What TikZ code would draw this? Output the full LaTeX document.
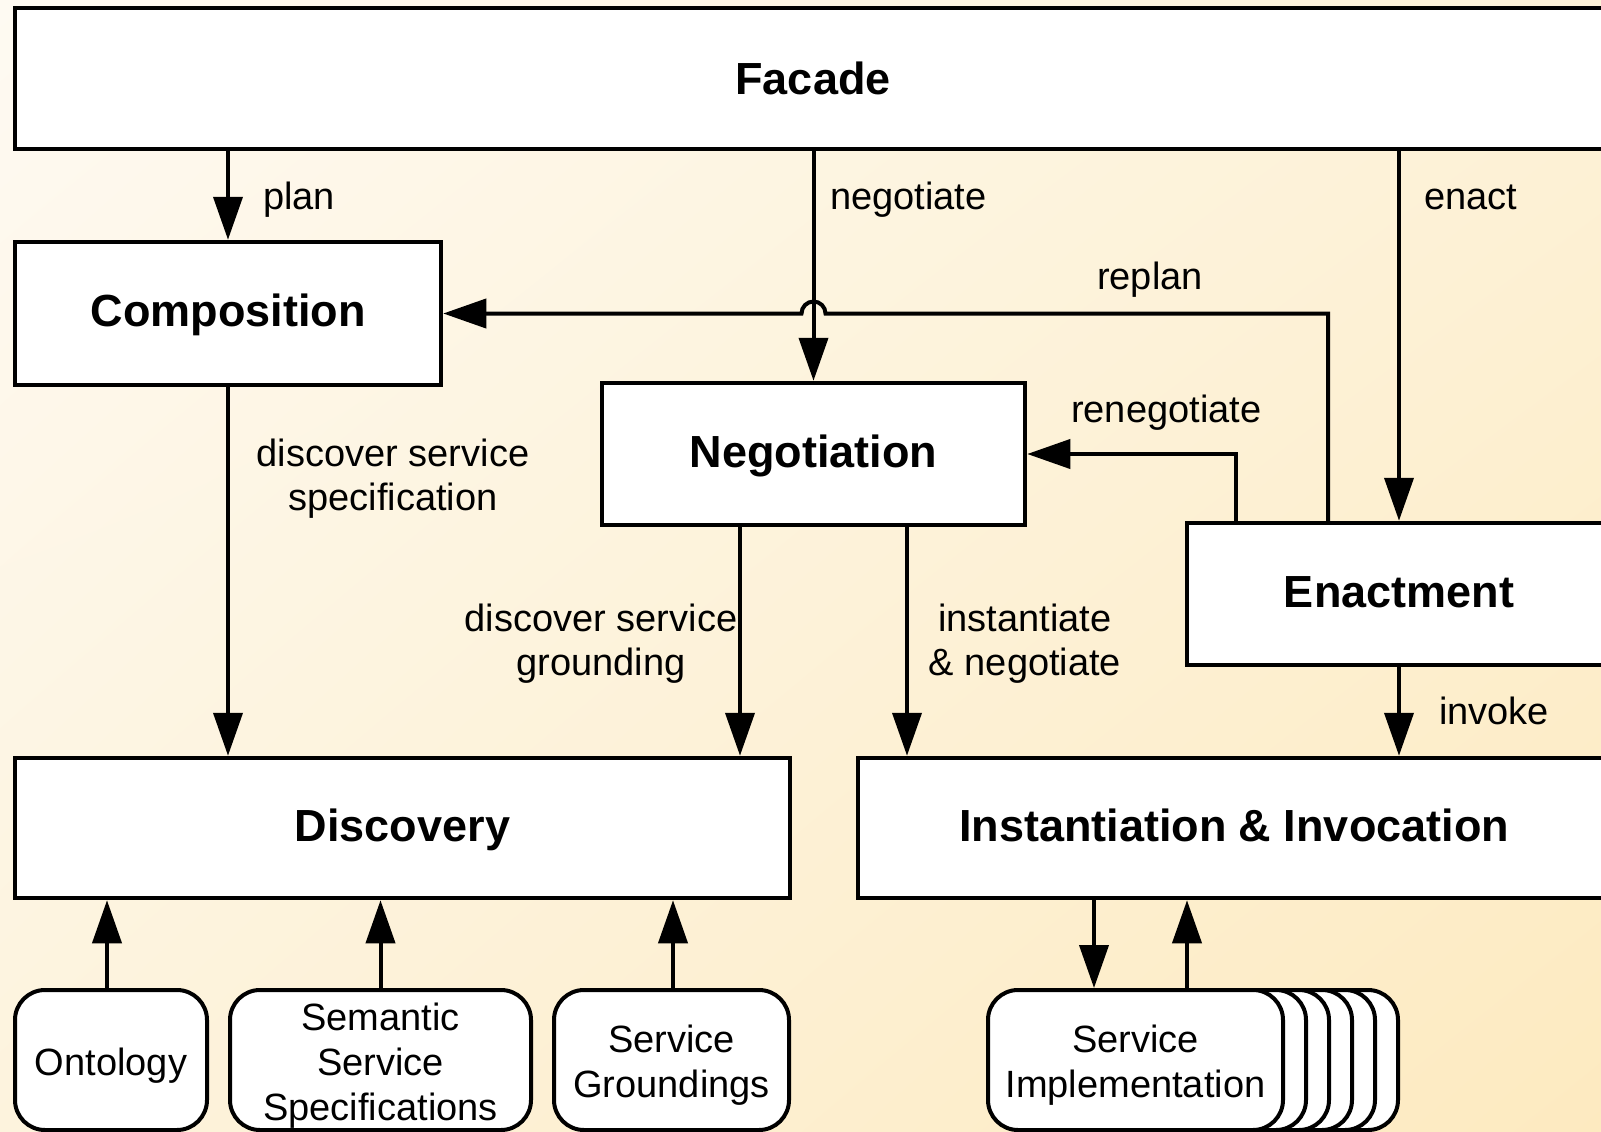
\documentclass[tikz,border=0pt]{standalone}
\usepackage{fontspec}
\setmainfont{Liberation Sans}
\usetikzlibrary{arrows.meta,shadings}
\definecolor{bgUL}{HTML}{FEFAF2}
\definecolor{bgUR}{HTML}{FDF2D8}
\definecolor{bgLL}{HTML}{FDF3DD}
\definecolor{bgLR}{HTML}{FDEAC0}
% raises the first line of a repository label so the block sits a little lower
\newcommand{\leafstrut}{\rule{0pt}{38pt}}
\begin{document}
\begin{tikzpicture}[x=1pt,y=-1pt,
  box/.style={draw=black, fill=white, line width=4.5pt, inner sep=0pt,
    text height=32.4pt, text depth=6.4pt,
    font=\fontsize{45}{54}\selectfont\bfseries},
  leaf/.style={draw=black, fill=white, line width=4pt, rounded corners=30pt,
    inner sep=0pt, minimum height=140pt, align=center,
    font=\fontsize{38}{45}\selectfont},
  lbl/.style={inner sep=0pt, align=center, font=\fontsize{38}{44}\selectfont},
  arr/.style={line width=4pt, -{Triangle[length=43pt,width=29pt]}}]

\useasboundingbox (0,0) rectangle (1601,1132);
\clip (0,0) rectangle (1601,1132);
\shade[upper left=bgUL, upper right=bgUR, lower left=bgLL, lower right=bgLR]
  (0,0) rectangle (1601,1132);

% main components
\node[box, text depth=0pt, minimum width=1596pt, minimum height=141pt] (facade) at (813,78.5) {Facade};
\node[box, minimum width=426pt, minimum height=143pt] (comp) at (228,313.5) {Composition};
\node[box, minimum width=423pt, minimum height=142pt] (nego) at (813.5,454) {Negotiation};
\node[box, minimum width=424pt, minimum height=142pt] (enact) at (1399,594) {Enactment};
\node[box, minimum width=775pt, minimum height=140pt] (disc) at (402.5,828) {Discovery};
\node[box, minimum width=752pt, minimum height=140pt] (inst) at (1234,828) {Instantiation \& Invocation};

% repositories
\node[leaf, minimum width=192pt] (onto) at (111,1060) {\leafstrut Ontology};
\node[leaf, minimum width=301pt] (sem) at (380.5,1060) {\leafstrut Semantic\\Service\\Specifications};
\node[leaf, minimum width=235pt] (grd) at (671.5,1060) {\leafstrut Service\\Groundings};
\foreach \k in {5,...,1}
  \node[leaf, minimum width=295pt] (implback\k) at (1135.5+23*\k,1060) {};
\node[leaf, minimum width=295pt] (impl) at (1135.5,1060) {\leafstrut Service\\Implementation};

% feedback loops from enactment
\coordinate (rp) at ([xshift=-71pt]enact.north);
\coordinate (rn) at ([xshift=-163pt]enact.north);
\coordinate (hop) at (nego.north |- comp.east);
\draw[arr] (rp) -- (rp |- comp.east) -- ([xshift=12pt]hop)
  arc[start angle=0, end angle=180, radius=12pt] -- (comp.east);
\draw[arr] (rn) |- (nego.east);

% calls from the facade
\draw[arr] (comp.north |- facade.south) -- (comp.north);
\draw[arr] (nego.north |- facade.south) -- (nego.north);
\draw[arr] (enact.north |- facade.south) -- (enact.north);

% downward calls
\draw[arr] (comp.south) -- (comp.south |- disc.north);
\coordinate (g1) at ([xshift=-73.5pt]nego.south);
\draw[arr] (g1) -- (g1 |- disc.north);
\coordinate (g2) at ([xshift=93.5pt]nego.south);
\draw[arr] (g2) -- (g2 |- inst.north);
\draw[arr] (enact.south) -- (enact.south |- inst.north);

% repository links
\coordinate (o1) at ([xshift=-4pt]onto.north);
\draw[arr] (o1) -- (o1 |- disc.south);
\draw[arr] (sem.north) -- (sem.north |- disc.south);
\coordinate (s1) at ([xshift=1.5pt]grd.north);
\draw[arr] (s1) -- (s1 |- disc.south);
\coordinate (i1) at ([xshift=-41.5pt]impl.north);
\draw[arr] (i1 |- inst.south) -- (i1);
\coordinate (i2) at ([xshift=51.5pt]impl.north);
\draw[arr] (i2) -- (i2 |- inst.south);

% connector labels
\node[lbl, anchor=base west] (lplan) at (263,209) {plan};
\node[lbl, anchor=base west] (lneg) at (830,209) {negotiate};
\node[lbl, anchor=base west] (lenact) at (1424,209) {enact};
\node[lbl, anchor=base west] (lreplan) at (1097,289) {replan};
\node[lbl, anchor=base west] (lreneg) at (1071,422) {renegotiate};
\node[lbl] (lspec) at (393,479) {discover service\\specification};
\node[lbl] (lgrd) at (601,644) {discover service\\grounding};
\node[lbl] (linst) at (1025,644) {instantiate\\\& negotiate};
\node[lbl, anchor=base west] (linv) at (1439,724) {invoke};
\end{tikzpicture}
\end{document}
